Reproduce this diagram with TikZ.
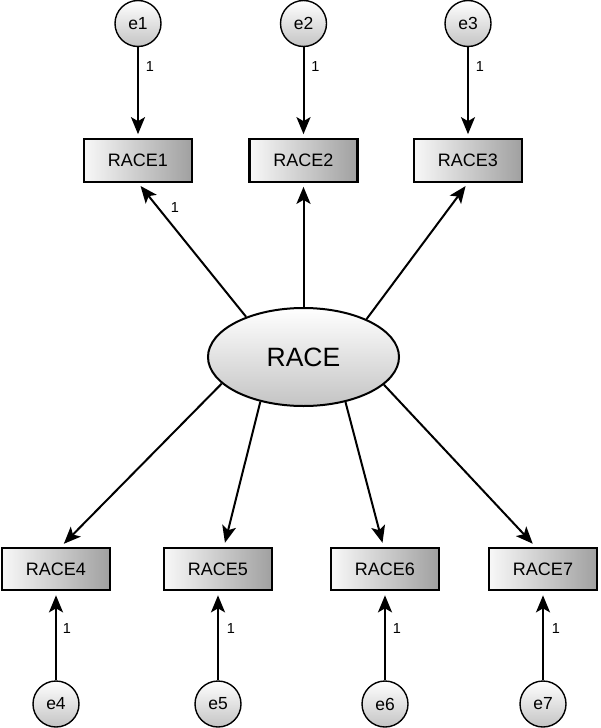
\documentclass[tikz,border=0pt]{standalone}
\usepackage{fontspec}
\setmainfont{Liberation Sans}
\usetikzlibrary{shapes.geometric,arrows.meta}
\definecolor{boxL}{HTML}{F8F8F8}
\definecolor{boxR}{HTML}{A0A0A0}
\definecolor{cirB}{HTML}{C4C4C4}
\begin{document}
\begin{tikzpicture}[x=1pt,y=-1pt,
  obs/.style={draw, line width=2.2pt, rectangle, minimum width=108pt, minimum height=42.5pt, inner sep=0pt,
    shading=axis, left color=boxL, right color=boxR, font=\fontsize{18}{20}\selectfont},
  err/.style={draw, line width=1.4pt, circle, minimum size=46pt, inner sep=0pt,
    top color=white, bottom color=cirB, font=\fontsize{17.5}{20}\selectfont},
  lat/.style={draw, line width=2pt, ellipse, minimum width=191pt, minimum height=98pt, inner sep=0pt,
    top color=white, bottom color=cirB, font=\fontsize{26.5}{30}\selectfont},
  arr/.style={line width=2pt, -{Stealth[length=17pt,width=14pt,inset=4pt]}, shorten >=4pt},
  one/.style={font=\fontsize{14.5}{16}\selectfont, inner sep=0pt}
]
\useasboundingbox (0,0) rectangle (600,728);
% latent
\node[lat] (RACE) at (303.5,357) {RACE};
% top
\node[obs] (R1) at (138,160.5) {RACE1};
\node[obs] (R2) at (303.5,160.5) {RACE2};
\node[obs] (R3) at (468,160.5) {RACE3};
\node[err] (e1) at (138,23.5) {e1};
\node[err] (e2) at (303.5,23.5) {e2};
\node[err] (e3) at (468,23.5) {e3};
% bottom
\node[obs] (R4) at (56,569) {RACE4};
\node[obs] (R5) at (218,569) {RACE5};
\node[obs] (R6) at (385,569) {RACE6};
\node[obs] (R7) at (543,569) {RACE7};
\node[err] (e4) at (56,704) {e4};
\node[err] (e5) at (218,704) {e5};
\node[err] (e6) at (385,704) {e6};
\node[err] (e7) at (543,704) {e7};
% error arrows
\foreach \e/\r in {e1/R1,e2/R2,e3/R3,e4/R4,e5/R5,e6/R6,e7/R7}
  \draw[arr] (\e) -- (\r);
% labels on error arrows
\node[one] (l1) at (150,67) {1};
\node[one] (l2) at (315.5,67) {1};
\node[one] (l3) at (480,67) {1};
\node[one] (l4) at (67,629) {1};
\node[one] (l5) at (231,629) {1};
\node[one] (l6) at (397,629) {1};
\node[one] (l7) at (556,629) {1};
% loadings
\draw[arr] (RACE.145) -- (R1.south);
\draw[arr] (RACE.90) -- (R2);
\draw[arr] (RACE.31) -- (R3.south);
\draw[arr] (RACE.198.5) -- ([xshift=5pt]R4.north);
\draw[arr] (RACE.226) -- ([xshift=6pt]R5.north);
\draw[arr] (RACE.313) -- ([xshift=-1.5pt]R6.north);
\draw[arr] (RACE.341.5) -- ([xshift=-7.5pt]R7.north);
\node[one] (l8) at (175,208) {1};
\end{tikzpicture}
\end{document}
